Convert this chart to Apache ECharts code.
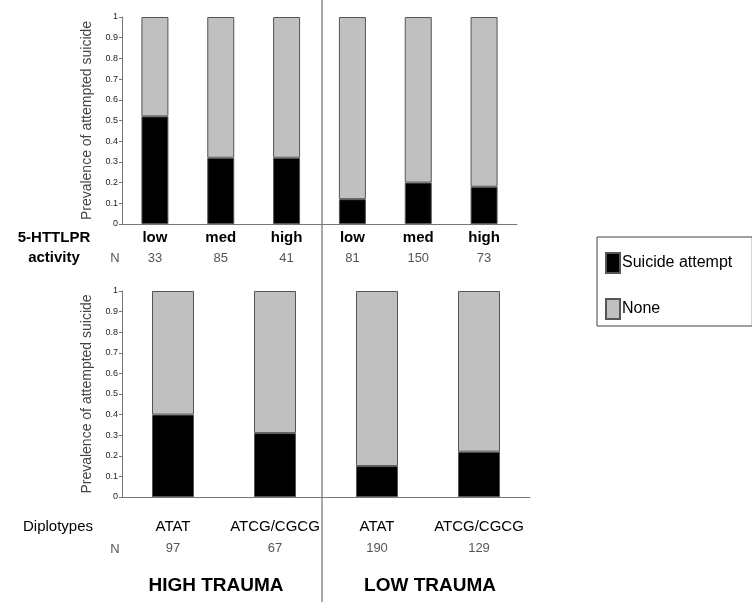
<!DOCTYPE html>
<html>
<head>
<meta charset="utf-8">
<style type="text/css">
html, body { margin: 0; padding: 0; background: #fff; }
#chart { width: 752px; height: 602px; }
</style>
<script type="text/javascript" src="https://cdn.jsdelivr.net/npm/echarts@6/dist/echarts.min.js"></script>
</head>
<body>
<div id="chart"></div>
<script type="text/javascript">
// top panel: 5-HTTLPR activity (high trauma | low trauma)
var activity = ['low', 'med', 'high', 'low', 'med', 'high'];
var activityN = [33, 85, 41, 81, 150, 73];
var attemptTop = [0.52, 0.32, 0.32, 0.12, 0.20, 0.18];
var noneTop = [0.48, 0.68, 0.68, 0.88, 0.80, 0.82];

// bottom panel: diplotypes
var diplotypes = ['ATAT', 'ATCG/CGCG', 'ATAT', 'ATCG/CGCG'];
var diplotypeN = [97, 67, 190, 129];
var attemptBottom = [0.40, 0.31, 0.15, 0.22];
var noneBottom = [0.60, 0.69, 0.85, 0.78];

var FONT = 'Liberation Sans, Arial, sans-serif';
var chart = echarts.init(document.getElementById('chart'));

function yAxis(idx) {
	return {
		gridIndex: idx,
		type: 'value',
		min: 0,
		max: 1,
		interval: 0.1,
		name: 'Prevalence of attempted suicide',
		nameLocation: 'middle',
		nameGap: 23,
		nameTextStyle: { fontFamily: FONT, fontSize: 14, color: '#444' },
		axisLine: { show: true, lineStyle: { color: '#777' } },
		axisTick: { show: true, length: 3, lineStyle: { color: '#777' } },
		axisLabel: { fontFamily: FONT, fontSize: 9, color: '#222', margin: 4 },
		splitLine: { show: false }
	};
}

function bars(name, data, idx, color, w) {
	return {
		name: name,
		type: 'bar',
		stack: 's' + idx,
		xAxisIndex: idx,
		yAxisIndex: idx,
		barWidth: w,
		data: data,
		itemStyle: { color: color, borderColor: '#555', borderWidth: 1 }
	};
}

chart.setOption({
	animation: false,
	textStyle: { fontFamily: FONT },
	grid: [
		{ left: 122, top: 17, width: 395, height: 207 },
		{ left: 122, top: 291, width: 408, height: 206 }
	],
	legend: {
		orient: 'vertical',
		left: 597,
		top: 237,
		icon: 'rect',
		itemWidth: 14,
		itemHeight: 20,
		itemGap: 24,
		padding: [15, 20, 6, 8],
		borderColor: '#444',
		borderWidth: 1,
		textStyle: { fontFamily: FONT, fontSize: 16, color: '#000', padding: [0, 0, 0, -3] },
		data: ['Suicide attempt', 'None']
	},
	xAxis: [
		{
			gridIndex: 0,
			type: 'category',
			data: activity,
			axisLine: { lineStyle: { color: '#777' } },
			axisTick: { length: 3, lineStyle: { color: '#777' } },
			axisLabel: {
				interval: 0,
				margin: 4,
				formatter: function (v, i) {
					return '{c|' + v + '}\n{n|' + activityN[i] + '}';
				},
				rich: {
					c: { fontFamily: FONT, fontSize: 15, fontWeight: 'bold', color: '#000', lineHeight: 20 },
					n: { fontFamily: FONT, fontSize: 13, color: '#555', lineHeight: 20 }
				}
			}
		},
		{
			gridIndex: 1,
			type: 'category',
			data: diplotypes,
			axisLine: { lineStyle: { color: '#777' } },
			axisTick: { length: 3, lineStyle: { color: '#777' } },
			axisLabel: {
				interval: 0,
				hideOverlap: false,
				margin: 22,
				formatter: function (v, i) {
					return '{c|' + v + '}\n{n|' + diplotypeN[i] + '}';
				},
				rich: {
					c: { fontFamily: FONT, fontSize: 15, color: '#000', lineHeight: 16 },
					n: { fontFamily: FONT, fontSize: 13, color: '#555', lineHeight: 26 }
				}
			}
		}
	],
	yAxis: [yAxis(0), yAxis(1)],
	series: [
		bars('Suicide attempt', attemptTop, 0, '#000', 27),
		bars('None', noneTop, 0, '#c0c0c0', 27),
		bars('Suicide attempt', attemptBottom, 1, '#000', 42),
		bars('None', noneBottom, 1, '#c0c0c0', 42)
	],
	graphic: [
		{ type: 'line', shape: { x1: 322, y1: 0, x2: 322, y2: 602 }, style: { stroke: '#555', lineWidth: 1 } },
		{ type: 'text', x: 54, y: 238, style: { text: '5-HTTLPR', font: 'bold 15px ' + FONT, fill: '#000', textAlign: 'center', textVerticalAlign: 'middle' } },
		{ type: 'text', x: 54, y: 258, style: { text: 'activity', font: 'bold 15px ' + FONT, fill: '#000', textAlign: 'center', textVerticalAlign: 'middle' } },
		{ type: 'text', x: 115, y: 258, style: { text: 'N', font: '13px ' + FONT, fill: '#555', textAlign: 'center', textVerticalAlign: 'middle' } },
		{ type: 'text', x: 23, y: 527, style: { text: 'Diplotypes', font: '15px ' + FONT, fill: '#000', textAlign: 'left', textVerticalAlign: 'middle' } },
		{ type: 'text', x: 115, y: 549, style: { text: 'N', font: '13px ' + FONT, fill: '#555', textAlign: 'center', textVerticalAlign: 'middle' } },
		{ type: 'text', x: 216, y: 586, style: { text: 'HIGH TRAUMA', font: 'bold 19px ' + FONT, fill: '#000', textAlign: 'center', textVerticalAlign: 'middle' } },
		{ type: 'text', x: 430, y: 586, style: { text: 'LOW TRAUMA', font: 'bold 19px ' + FONT, fill: '#000', textAlign: 'center', textVerticalAlign: 'middle' } }
	]
});
</script>
</body>
</html>
